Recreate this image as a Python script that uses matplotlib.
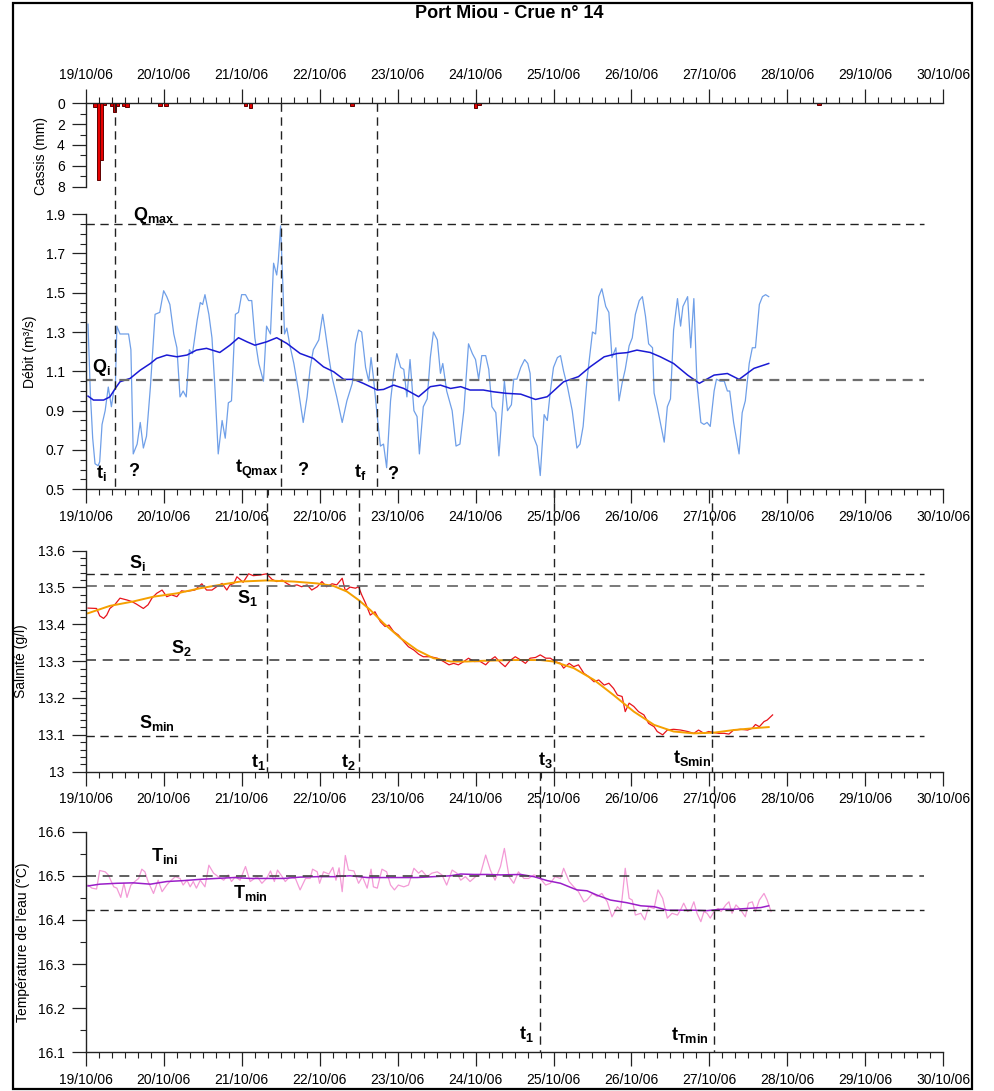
import matplotlib
matplotlib.use("Agg")
import matplotlib.pyplot as plt
from matplotlib.ticker import MultipleLocator, FixedLocator
from matplotlib.transforms import blended_transform_factory
from matplotlib.lines import Line2D
from matplotlib.patches import Rectangle

plt.rcParams['font.family'] = ['Liberation Sans', 'DejaVu Sans']
plt.rcParams['mathtext.fontset'] = 'custom'
plt.rcParams['mathtext.bf'] = 'Liberation Sans:bold'
plt.rcParams['mathtext.rm'] = 'Liberation Sans'

# x axis: days since 19/10/06 00:00
day_labels = ["19/10/06", "20/10/06", "21/10/06", "22/10/06", "23/10/06", "24/10/06",
              "25/10/06", "26/10/06", "27/10/06", "28/10/06", "29/10/06", "30/10/06"]
q_ticks = [0.5, 0.7, 0.9, 1.1, 1.3, 1.5, 1.7, 1.9]

# hourly rain at Cassis (hour since 19/10 00:00, mm)
rain_hours = [2.9, 3.9, 4.9, 5.8, 8.0, 8.9, 9.8, 11.7, 12.7, 22.9, 24.7,
              49.3, 50.7, 82.0, 120.0, 121.1, 225.7]
rain_mm = [0.4, 7.4, 5.4, 0.2, 0.25, 0.8, 0.25, 0.3, 0.4, 0.25, 0.25,
           0.25, 0.45, 0.25, 0.45, 0.2, 0.2]

# discharge (m3/s)
q_days = [0.03, 0.06, 0.09, 0.12, 0.16, 0.18, 0.21, 0.25, 0.29, 0.31, 0.33, 0.36, 0.38,
          0.40, 0.44, 0.50, 0.55, 0.58, 0.61, 0.66, 0.70, 0.74, 0.78, 0.83, 0.89, 0.95,
          1.00, 1.04, 1.08, 1.13, 1.17, 1.21, 1.25, 1.29, 1.33, 1.37, 1.43, 1.47, 1.50,
          1.53, 1.58, 1.62, 1.66, 1.70, 1.75, 1.79, 1.83, 1.87, 1.92, 1.96, 2.00, 2.05,
          2.09, 2.13, 2.17, 2.22, 2.28, 2.32, 2.37, 2.41, 2.45, 2.47, 2.50, 2.53, 2.55,
          2.58, 2.62, 2.67, 2.73, 2.79, 2.84, 2.88, 2.92, 2.99, 3.04, 3.07, 3.12, 3.16,
          3.22, 3.29, 3.35, 3.42, 3.46, 3.50, 3.54, 3.59, 3.63, 3.66, 3.69, 3.74, 3.78,
          3.82, 3.86, 3.91, 3.95, 3.99, 4.04, 4.08, 4.12, 4.16, 4.21, 4.25, 4.28, 4.33,
          4.38, 4.42, 4.46, 4.51, 4.55, 4.58, 4.63, 4.70, 4.75, 4.80, 4.85, 4.91, 4.96,
          5.00, 5.04, 5.08, 5.13, 5.17, 5.21, 5.26, 5.30, 5.34, 5.37, 5.41, 5.46, 5.49,
          5.53, 5.58, 5.63, 5.67, 5.70, 5.74, 5.79, 5.83, 5.88, 5.92, 5.96, 6.00, 6.05,
          6.09, 6.13, 6.18, 6.24, 6.30, 6.34, 6.38, 6.43, 6.50, 6.54, 6.58, 6.62, 6.67,
          6.71, 6.75, 6.80, 6.84, 6.88, 6.92, 6.97, 7.01, 7.05, 7.10, 7.14, 7.18, 7.22,
          7.27, 7.29, 7.33, 7.37, 7.42, 7.46, 7.50, 7.54, 7.59, 7.63, 7.66, 7.72, 7.76,
          7.80, 7.84, 7.89, 7.93, 7.97, 8.01, 8.06, 8.09, 8.14, 8.19, 8.23, 8.26, 8.31,
          8.38, 8.42, 8.46, 8.51, 8.55, 8.59, 8.64, 8.68, 8.72, 8.76]
q_raw = [1.34, 0.99, 0.76, 0.63, 0.62, 0.64, 0.83, 0.90, 1.02, 0.97, 0.92, 1.00, 1.01,
         1.33, 1.29, 1.29, 1.29, 1.21, 0.68, 0.73, 0.84, 0.71, 0.77, 1.02, 1.39, 1.40,
         1.51, 1.48, 1.44, 1.29, 1.22, 0.97, 1.00, 0.97, 1.21, 1.19, 1.36, 1.45, 1.44,
         1.49, 1.39, 1.27, 1.00, 0.68, 0.85, 0.76, 0.94, 0.95, 1.39, 1.40, 1.49, 1.49,
         1.46, 1.46, 1.27, 1.14, 1.05, 1.33, 1.29, 1.65, 1.59, 1.66, 1.84, 1.53, 1.29,
         1.32, 1.23, 1.14, 1.00, 0.84, 0.97, 1.12, 1.21, 1.26, 1.39, 1.31, 1.17, 1.07,
         0.97, 0.84, 0.95, 1.04, 1.24, 1.31, 1.30, 1.12, 1.05, 1.17, 1.07, 0.87, 0.72,
         0.73, 0.61, 0.95, 1.09, 1.19, 1.12, 1.11, 0.97, 1.16, 0.90, 0.87, 0.68, 0.92,
         0.96, 1.17, 1.30, 1.26, 1.09, 1.14, 1.00, 0.90, 0.72, 0.73, 0.90, 1.24, 1.19,
         1.16, 1.06, 1.18, 1.18, 1.11, 0.92, 0.89, 0.67, 0.89, 1.05, 0.90, 0.93, 1.06,
         1.06, 1.12, 1.16, 1.14, 1.09, 0.77, 0.72, 0.57, 0.88, 0.85, 1.00, 1.12, 1.17,
         1.18, 1.10, 1.02, 0.90, 0.71, 0.73, 0.82, 1.06, 1.30, 1.29, 1.48, 1.52, 1.43,
         1.40, 1.17, 1.22, 0.95, 1.04, 1.11, 1.23, 1.27, 1.39, 1.46, 1.48, 1.38, 1.24,
         1.22, 0.99, 0.92, 0.84, 0.74, 0.92, 0.96, 1.31, 1.47, 1.33, 1.43, 1.48, 1.22,
         1.47, 1.04, 0.84, 0.83, 0.84, 0.82, 1.00, 1.06, 1.05, 1.05, 1.00, 1.00, 0.84,
         0.68, 0.89, 0.95, 1.14, 1.22, 1.22, 1.44, 1.48, 1.49, 1.48]
qs_days = [0.03, 0.10, 0.23, 0.31, 0.38, 0.44, 0.57, 0.70, 0.83, 0.91, 1.04, 1.17, 1.30,
           1.42, 1.55, 1.72, 1.85, 1.96, 2.07, 2.17, 2.32, 2.45, 2.58, 2.75, 2.92, 3.05,
           3.18, 3.31, 3.44, 3.56, 3.74, 3.82, 3.95, 4.08, 4.27, 4.42, 4.55, 4.68, 4.81,
           4.93, 5.10, 5.23, 5.40, 5.58, 5.77, 5.92, 6.13, 6.32, 6.47, 6.65, 6.82, 6.94,
           7.07, 7.24, 7.37, 7.54, 7.72, 7.87, 8.06, 8.23, 8.38, 8.57, 8.76]
q_smooth = [0.974, 0.954, 0.954, 0.970, 1.013, 1.047, 1.064, 1.106, 1.140, 1.166, 1.183,
            1.174, 1.183, 1.208, 1.217, 1.196, 1.233, 1.271, 1.250, 1.233, 1.250, 1.271,
            1.242, 1.191, 1.166, 1.123, 1.098, 1.059, 1.059, 1.039, 1.005, 1.008, 1.030,
            1.013, 0.971, 1.022, 1.030, 1.013, 1.022, 1.005, 1.005, 0.996, 0.988, 0.984,
            0.957, 0.971, 1.047, 1.073, 1.123, 1.174, 1.191, 1.195, 1.208, 1.196, 1.174,
            1.140, 1.081, 1.039, 1.081, 1.089, 1.059, 1.115, 1.140]

# salinity (g/l)
s_days = [0.03, 0.14, 0.18, 0.23, 0.27, 0.31, 0.38, 0.44, 0.53, 0.59, 0.65, 0.74, 0.80,
          0.85, 0.91, 0.98, 1.04, 1.10, 1.17, 1.23, 1.28, 1.34, 1.40, 1.49, 1.55, 1.62,
          1.68, 1.75, 1.81, 1.85, 1.90, 1.94, 2.02, 2.09, 2.15, 2.24, 2.32, 2.39, 2.45,
          2.52, 2.58, 2.64, 2.71, 2.77, 2.84, 2.90, 2.97, 3.03, 3.09, 3.16, 3.22, 3.29,
          3.33, 3.39, 3.46, 3.50, 3.54, 3.59, 3.65, 3.71, 3.78, 3.84, 3.89, 3.95, 4.01,
          4.08, 4.14, 4.21, 4.27, 4.33, 4.42, 4.51, 4.59, 4.66, 4.72, 4.78, 4.85, 4.91,
          4.98, 5.06, 5.13, 5.19, 5.25, 5.32, 5.38, 5.45, 5.51, 5.58, 5.64, 5.70, 5.77,
          5.83, 5.90, 5.96, 6.02, 6.09, 6.13, 6.20, 6.26, 6.32, 6.39, 6.45, 6.52, 6.58,
          6.65, 6.71, 6.77, 6.82, 6.88, 6.92, 6.97, 7.03, 7.09, 7.16, 7.22, 7.29, 7.33,
          7.40, 7.46, 7.54, 7.63, 7.72, 7.80, 7.86, 7.93, 7.99, 8.06, 8.12, 8.19, 8.25,
          8.31, 8.40, 8.49, 8.55, 8.59, 8.64, 8.70, 8.74, 8.81]
s_raw = [13.444, 13.443, 13.423, 13.416, 13.425, 13.443, 13.455, 13.471, 13.466, 13.462,
         13.455, 13.443, 13.453, 13.471, 13.484, 13.493, 13.475, 13.480, 13.475, 13.491,
         13.489, 13.491, 13.493, 13.510, 13.493, 13.493, 13.502, 13.511, 13.493, 13.507,
         13.511, 13.529, 13.514, 13.537, 13.532, 13.534, 13.537, 13.522, 13.516, 13.520,
         13.511, 13.504, 13.507, 13.502, 13.507, 13.493, 13.502, 13.516, 13.502, 13.510,
         13.507, 13.525, 13.491, 13.501, 13.498, 13.502, 13.480, 13.457, 13.425, 13.434,
         13.407, 13.394, 13.398, 13.380, 13.371, 13.353, 13.339, 13.330, 13.319, 13.312,
         13.312, 13.308, 13.299, 13.290, 13.294, 13.290, 13.299, 13.308, 13.299, 13.299,
         13.290, 13.303, 13.312, 13.296, 13.285, 13.303, 13.312, 13.303, 13.294, 13.308,
         13.310, 13.317, 13.308, 13.308, 13.299, 13.294, 13.281, 13.294, 13.285, 13.290,
         13.267, 13.258, 13.244, 13.249, 13.235, 13.240, 13.226, 13.208, 13.204, 13.163,
         13.186, 13.177, 13.163, 13.154, 13.131, 13.122, 13.109, 13.100, 13.113, 13.115,
         13.113, 13.109, 13.104, 13.113, 13.104, 13.109, 13.106, 13.104, 13.104, 13.102,
         13.113, 13.115, 13.113, 13.118, 13.128, 13.122, 13.136, 13.140, 13.154]
sf_days = [0.03, 0.31, 0.61, 0.87, 1.17, 1.47, 1.72, 1.98, 2.32, 2.67, 2.97, 3.18, 3.35,
           3.50, 3.65, 3.82, 4.04, 4.25, 4.46, 4.68, 4.89, 5.10, 5.49, 5.83, 6.00, 6.26,
           6.52, 6.77, 7.03, 7.29, 7.54, 7.80, 8.06, 8.31, 8.57, 8.76]
s_fit = [13.430, 13.450, 13.462, 13.475, 13.484, 13.498, 13.507, 13.516, 13.519, 13.516,
         13.511, 13.504, 13.489, 13.466, 13.439, 13.403, 13.362, 13.330, 13.308, 13.299,
         13.299, 13.301, 13.303, 13.303, 13.299, 13.281, 13.249, 13.208, 13.163, 13.127,
         13.109, 13.104, 13.106, 13.113, 13.118, 13.121]

# water temperature (deg C)
t_days = [0.03, 0.08, 0.14, 0.18, 0.25, 0.29, 0.36, 0.40, 0.45, 0.49, 0.53, 0.58, 0.63,
          0.68, 0.72, 0.76, 0.80, 0.87, 0.93, 0.98, 1.04, 1.08, 1.15, 1.21, 1.25, 1.30,
          1.34, 1.38, 1.42, 1.47, 1.53, 1.58, 1.64, 1.70, 1.77, 1.83, 1.87, 1.92, 1.98,
          2.05, 2.11, 2.20, 2.26, 2.32, 2.37, 2.42, 2.46, 2.52, 2.56, 2.62, 2.69, 2.75,
          2.82, 2.88, 2.91, 2.97, 3.00, 3.05, 3.12, 3.17, 3.21, 3.25, 3.29, 3.33, 3.37,
          3.44, 3.50, 3.55, 3.61, 3.66, 3.69, 3.74, 3.80, 3.86, 3.91, 3.96, 4.01, 4.08,
          4.14, 4.21, 4.27, 4.31, 4.38, 4.44, 4.51, 4.57, 4.63, 4.70, 4.76, 4.81, 4.87,
          4.93, 5.00, 5.06, 5.13, 5.19, 5.25, 5.32, 5.37, 5.43, 5.49, 5.55, 5.62, 5.68,
          5.75, 5.81, 5.90, 5.96, 6.02, 6.09, 6.13, 6.20, 6.26, 6.32, 6.39, 6.43, 6.50,
          6.56, 6.62, 6.69, 6.75, 6.82, 6.86, 6.88, 6.92, 6.97, 7.01, 7.05, 7.12, 7.17,
          7.22, 7.29, 7.34, 7.40, 7.46, 7.52, 7.59, 7.63, 7.67, 7.72, 7.76, 7.80, 7.84,
          7.89, 7.93, 7.97, 8.01, 8.06, 8.11, 8.15, 8.21, 8.25, 8.29, 8.34, 8.40, 8.46,
          8.50, 8.55, 8.59, 8.64, 8.70, 8.74, 8.79]
t_raw = [16.479, 16.472, 16.470, 16.512, 16.509, 16.502, 16.475, 16.472, 16.451, 16.483,
         16.451, 16.479, 16.487, 16.494, 16.515, 16.509, 16.487, 16.460, 16.490, 16.464,
         16.479, 16.487, 16.498, 16.494, 16.479, 16.490, 16.475, 16.487, 16.472, 16.490,
         16.475, 16.524, 16.506, 16.498, 16.490, 16.502, 16.487, 16.498, 16.490, 16.521,
         16.487, 16.498, 16.483, 16.494, 16.511, 16.487, 16.513, 16.498, 16.487, 16.498,
         16.494, 16.468, 16.494, 16.494, 16.515, 16.509, 16.483, 16.509, 16.504, 16.519,
         16.490, 16.518, 16.464, 16.546, 16.513, 16.511, 16.483, 16.498, 16.472, 16.515,
         16.475, 16.472, 16.515, 16.509, 16.479, 16.468, 16.479, 16.475, 16.479, 16.517,
         16.506, 16.512, 16.498, 16.506, 16.509, 16.502, 16.479, 16.513, 16.506, 16.490,
         16.498, 16.487, 16.498, 16.502, 16.547, 16.513, 16.490, 16.521, 16.562, 16.498,
         16.483, 16.509, 16.494, 16.494, 16.502, 16.498, 16.479, 16.483, 16.498, 16.494,
         16.517, 16.487, 16.475, 16.464, 16.441, 16.445, 16.460, 16.453, 16.460, 16.441,
         16.407, 16.430, 16.423, 16.449, 16.517, 16.449, 16.445, 16.411, 16.415, 16.400,
         16.430, 16.426, 16.468, 16.449, 16.404, 16.415, 16.411, 16.423, 16.438, 16.419,
         16.423, 16.441, 16.415, 16.396, 16.419, 16.415, 16.404, 16.419, 16.426, 16.419,
         16.434, 16.441, 16.415, 16.434, 16.423, 16.407, 16.438, 16.441, 16.419, 16.445,
         16.460, 16.445, 16.419]
ts_days = [0.03, 0.18, 0.40, 0.61, 0.83, 1.04, 1.25, 1.47, 1.68, 1.90, 2.11, 2.32, 2.54,
           2.75, 2.97, 3.18, 3.39, 3.61, 3.82, 4.04, 4.25, 4.46, 4.68, 4.81, 4.98, 5.15,
           5.32, 5.58, 5.75, 5.92, 6.09, 6.30, 6.43, 6.56, 6.73, 6.94, 7.12, 7.29, 7.46,
           7.63, 7.80, 7.97, 8.14, 8.31, 8.49, 8.66, 8.76]
t_smooth = [16.477, 16.481, 16.483, 16.484, 16.481, 16.487, 16.489, 16.492, 16.494, 16.496,
            16.494, 16.494, 16.494, 16.497, 16.498, 16.498, 16.500, 16.496, 16.496, 16.496,
            16.496, 16.498, 16.500, 16.504, 16.503, 16.503, 16.502, 16.503, 16.498, 16.489,
            16.483, 16.468, 16.466, 16.456, 16.445, 16.439, 16.432, 16.430, 16.422, 16.422,
            16.422, 16.421, 16.424, 16.424, 16.426, 16.428, 16.432]

# reference levels and characteristic times
q_levels = [1.849, 1.056]
q_times = [0.376, 2.50, 3.735]
s_levels = [13.536, 13.505, 13.303, 13.098]
s_times = [2.327, 3.504, 6.003, 8.027]
t_levels = [16.50, 16.4225]
t_times = [5.823, 8.056]

fig = plt.figure(figsize=(9.95, 10.91), dpi=100)
L, W = 0.0861, 0.862
ax_r = fig.add_axes([L, 0.8289, W, 0.0764])
ax_q = fig.add_axes([L, 0.5515, W, 0.2523])
ax_s = fig.add_axes([L, 0.2927, W, 0.2026])
ax_t = fig.add_axes([L, 0.0355, W, 0.2022])

DASH = (6, 4)
INK = '#222222'


def style_axis(ax, top=False):
    ax.set_xlim(0, 11)
    ax.xaxis.set_major_locator(FixedLocator(range(12)))
    ax.xaxis.set_minor_locator(MultipleLocator(1 / 6))
    ax.set_xticklabels(day_labels)
    for s in ax.spines.values():
        s.set_visible(False)
    ax.spines['left'].set_visible(True)
    ax.spines['top' if top else 'bottom'].set_visible(True)
    for s in ax.spines.values():
        s.set_linewidth(1.0)
        s.set_color(INK)
    ax.tick_params(which='major', length=10, width=0.9, color=INK, labelsize=10, pad=5)
    ax.tick_params(which='minor', length=4.5, width=0.8, color=INK)
    if top:
        ax.xaxis.tick_top()
        ax.tick_params(axis='x', which='both', top=True, bottom=False)
    ax.patch.set_alpha(0)


def label(ax, x, y, txt):
    ax.text(x, y, txt, fontsize=13, ha='left', va='baseline', color='black')


# --- rain
style_axis(ax_r, top=True)
ax_r.bar([h / 24 for h in rain_hours], rain_mm, width=1 / 24, color='#e60000',
         edgecolor='#600000', linewidth=0.7)
ax_r.set_ylim(8, 0)
ax_r.yaxis.set_major_locator(MultipleLocator(2))
ax_r.yaxis.set_minor_locator(MultipleLocator(1))
ax_r.set_ylabel('Cassis (mm)', fontsize=10)
ax_r.yaxis.set_label_coords(-0.0436, 0.37)

# --- discharge
style_axis(ax_q)
ax_q.plot(q_days, q_raw, color='#6f9fe8', lw=0.9)
ax_q.plot(qs_days, q_smooth, color='#1a1ad4', lw=1.1)
ax_q.hlines(q_levels[0], 0, 10.75, colors=INK, lw=1.0, linestyles=(0, DASH))
ax_q.hlines(q_levels[1], 0, 10.75, colors='#6e6e6e', lw=1.6, linestyles=(0, (4.5, 3)))
ax_q.set_ylim(0.5, 1.9)
ax_q.yaxis.set_major_locator(FixedLocator(q_ticks))
ax_q.yaxis.set_minor_locator(MultipleLocator(0.05))
ax_q.yaxis.set_major_formatter(lambda v, p: f"{v:.1f}")
ax_q.set_ylabel('Débit (m³/s)', fontsize=10)
ax_q.yaxis.set_label_coords(-0.0571, 0.5)
label(ax_q, 0.608, 1.869, r'$\mathbf{Q_{max}}$')
label(ax_q, 0.077, 1.096, r'$\mathbf{Q_{i}}$')
label(ax_q, 0.132, 0.557, r'$\mathbf{t_{i}}$')
label(ax_q, 0.544, 0.567, r'$\mathbf{?}$')
label(ax_q, 1.917, 0.583, r'$\mathbf{t_{Qmax}}$')
label(ax_q, 2.713, 0.572, r'$\mathbf{?}$')
label(ax_q, 3.444, 0.562, r'$\mathbf{t_{f}}$')
label(ax_q, 3.864, 0.552, r'$\mathbf{?}$')

# --- salinity
style_axis(ax_s)
ax_s.plot(s_days, s_raw, color='#e8141c', lw=0.9)
ax_s.plot(sf_days, s_fit, color='#f5a000', lw=1.4)
for lev, col, lw in zip(s_levels, [INK, '#6e6e6e', '#444444', INK], [1.0, 1.3, 1.2, 1.0]):
    ax_s.hlines(lev, 0, 10.75, colors=col, lw=lw, linestyles=(0, DASH))
ax_s.set_ylim(13.0, 13.6)
ax_s.yaxis.set_major_locator(MultipleLocator(0.1))
ax_s.yaxis.set_minor_locator(MultipleLocator(0.02))
ax_s.yaxis.set_major_formatter(lambda v, p: f"{v:.1f}".replace("13.0", "13"))
ax_s.set_ylabel('Salinité (g/l)', fontsize=10)
ax_s.yaxis.set_label_coords(-0.0672, 0.5)
label(ax_s, 0.556, 13.552, r'$\mathbf{S_{i}}$')
label(ax_s, 1.942, 13.458, r'$\mathbf{S_{1}}$')
label(ax_s, 1.095, 13.322, r'$\mathbf{S_{2}}$')
label(ax_s, 0.684, 13.119, r'$\mathbf{S_{min}}$')
label(ax_s, 2.122, 13.013, r'$\mathbf{t_{1}}$')
label(ax_s, 3.277, 13.013, r'$\mathbf{t_{2}}$')
label(ax_s, 5.797, 13.018, r'$\mathbf{t_{3}}$')
label(ax_s, 7.535, 13.024, r'$\mathbf{t_{Smin}}$')

# --- temperature
style_axis(ax_t)
ax_t.plot(t_days, t_raw, color='#f39ad6', lw=0.9)
ax_t.plot(ts_days, t_smooth, color='#9a1ec8', lw=1.1)
ax_t.hlines(t_levels[0], 0, 10.75, colors='#444444', lw=1.2, linestyles=(0, DASH))
ax_t.hlines(t_levels[1], 0, 10.75, colors=INK, lw=1.0, linestyles=(0, DASH))
ax_t.set_ylim(16.1, 16.6)
ax_t.yaxis.set_major_locator(MultipleLocator(0.1))
ax_t.yaxis.set_minor_locator(MultipleLocator(0.05))
ax_t.yaxis.set_major_formatter(lambda v, p: f"{v:.1f}")
ax_t.set_ylabel("Température de l'eau (°C)", fontsize=10)
ax_t.yaxis.set_label_coords(-0.065, 0.5)
label(ax_t, 0.838, 16.534, r'$\mathbf{T_{ini}}$')
label(ax_t, 1.891, 16.450, r'$\mathbf{T_{min}}$')
label(ax_t, 5.553, 16.130, r'$\mathbf{t_{1}}$')
label(ax_t, 7.510, 16.128, r'$\mathbf{t_{Tmin}}$')

# vertical time markers, running across panels
for ax, times, y0, y1 in [(ax_q, q_times, 0.9053, 0.5515),
                          (ax_s, s_times, 0.5515, 0.2927),
                          (ax_t, t_times, 0.2927, 0.0355)]:
    tr = blended_transform_factory(ax.transData, fig.transFigure)
    for d in times:
        fig.add_artist(Line2D([d, d], [y0, y1], transform=tr, color=INK, lw=1.0,
                              linestyle=(0, DASH)))

fig.text(0.5116, 0.9872, 'Port Miou - Crue n° 14', fontsize=13, fontweight='bold',
         ha='center', va='center')
fig.add_artist(Rectangle((0.0134, 0.0018), 0.9632, 0.9952, transform=fig.transFigure,
                         fill=False, edgecolor='black', lw=1.6))

fig.savefig('out.png', dpi=100)
